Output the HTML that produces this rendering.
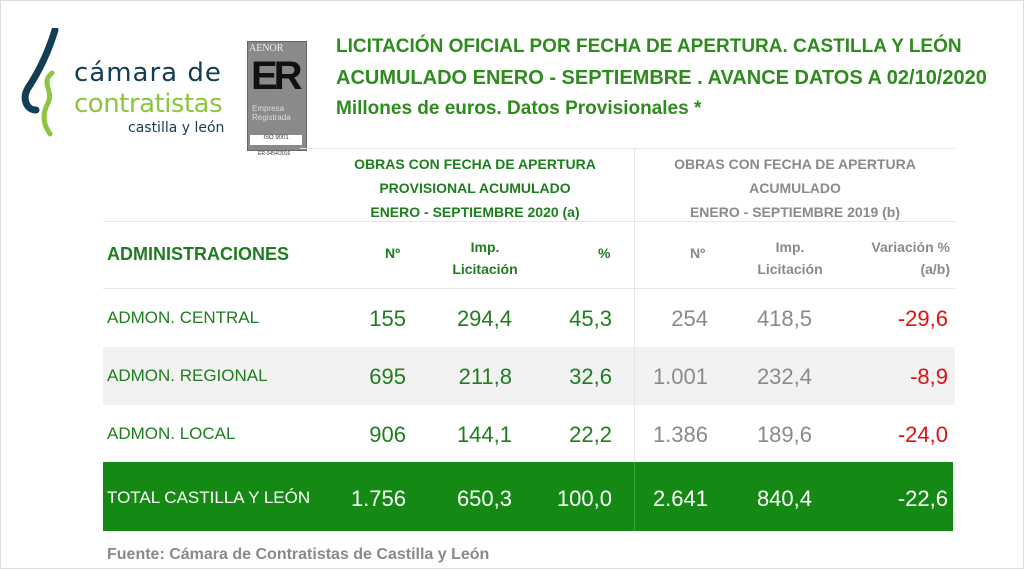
<!DOCTYPE html>
<html><head><meta charset="utf-8"><style>
body{margin:0;width:1024px;height:569px;background:#fff;position:relative;overflow:hidden;font-family:"Liberation Sans Narrow","Liberation Sans",sans-serif}
.a{position:absolute;white-space:nowrap}
.g{color:#1e7d1e}.gr{color:#8a8a8a}.r{color:#e01010}
.t{font-weight:bold;font-size:19px;color:#2e8b1e;left:336px}
.h{font-weight:bold;font-size:14px;text-align:center}
.n{font-size:22px}
.l{font-size:17px}
.rt{text-align:right}
</style></head><body>
<div class="a" style="left:0;top:0;width:1024px;height:569px;border:1px solid #ddd;box-sizing:border-box"></div>
<svg class="a" style="left:18px;top:28px" width="60" height="110">
<path d="M37 2 C30 25 20 45 10 60 C4 70 8 82 18 82" stroke="#123d52" stroke-width="7" fill="none" stroke-linecap="round"/>
<path d="M34 45 C22 55 36 62 30 75 C22 90 28 100 32 106" stroke="#8cc63f" stroke-width="5" fill="none" stroke-linecap="round"/>
</svg>
<div class="a" style="left:74px;top:58px;font-size:26px;color:#123d52;letter-spacing:1px;font-family:'DejaVu Sans',sans-serif">cámara de</div>
<div class="a" style="left:74px;top:89px;font-size:26px;color:#8cc63f;letter-spacing:-0.5px;font-family:'DejaVu Sans',sans-serif">contratistas</div>
<div class="a" style="left:128px;top:120px;font-size:14px;color:#123d52;font-family:'DejaVu Sans',sans-serif">castilla y león</div>
<div class="a" style="left:247px;top:41px;width:58px;height:108px;background:#8a8a8a;border:1px solid #666"></div>
<div class="a" style="left:249px;top:43px;font-size:10px;color:#eee;font-family:'Liberation Serif',serif">AENOR</div>
<div class="a" style="left:251px;top:54px;font-size:40px;font-weight:bold;color:#111;letter-spacing:-4px">ER</div>
<div class="a" style="left:252px;top:104px;font-size:8px;color:#ddd;line-height:9px">Empresa<br>Registrada</div>
<div class="a" style="left:250px;top:135px;width:52px;height:10px;background:#fff;font-size:6px;text-align:center;color:#333">ISO 9001</div>
<div class="a" style="left:258px;top:151px;font-size:5px;color:#333">ER-0454/2016</div>
<div class="a t" style="top:36px">LICITACIÓN OFICIAL POR FECHA DE APERTURA. CASTILLA Y LEÓN</div>
<div class="a t" style="top:67px;font-size:20px">ACUMULADO ENERO - SEPTIEMBRE . AVANCE DATOS A 02/10/2020</div>
<div class="a t" style="top:98px">Millones de euros. Datos Provisionales *</div>
<div class="a" style="left:300px;top:148px;width:655px;height:1px;background:#e6e6e6"></div>
<div class="a" style="left:103px;top:221px;width:852px;height:1px;background:#e6e6e6"></div>
<div class="a" style="left:103px;top:288px;width:852px;height:1px;background:#e6e6e6"></div>
<div class="a" style="left:103px;top:347px;width:852px;height:58px;background:#f2f2f2"></div>
<div class="a" style="left:634px;top:148px;width:1px;height:314px;background:#e6e6e6"></div>
<div class="a h g" style="left:330px;top:152px;width:290px;line-height:24px">OBRAS CON FECHA DE APERTURA<br>PROVISIONAL ACUMULADO<br>ENERO - SEPTIEMBRE 2020 (a)</div>
<div class="a h gr" style="left:650px;top:152px;width:290px;line-height:24px">OBRAS CON FECHA DE APERTURA<br>ACUMULADO<br>ENERO - SEPTIEMBRE 2019 (b)</div>
<div class="a g" style="left:107px;top:244px;font-size:18px;font-weight:bold">ADMINISTRACIONES</div>
<div class="a g" style="left:385px;top:245px;font-size:14px;font-weight:bold">Nº</div>
<div class="a g h" style="left:440px;top:236px;width:90px;line-height:22px">Imp.<br>Licitación</div>
<div class="a g" style="left:598px;top:245px;font-size:14px;font-weight:bold">%</div>
<div class="a gr" style="left:690px;top:245px;font-size:14px;font-weight:bold">Nº</div>
<div class="a gr h" style="left:745px;top:236px;width:90px;line-height:22px">Imp.<br>Licitación</div>
<div class="a gr h rt" style="left:840px;top:236px;width:110px;line-height:22px;text-align:right">Variación %<br>(a/b)</div>

<div class="a g l" style="left:107px;top:308px">ADMON. CENTRAL</div>
<div class="a g l" style="left:107px;top:366px">ADMON. REGIONAL</div>
<div class="a g l" style="left:107px;top:424px">ADMON. LOCAL</div>

<div class="a g n rt" style="left:320px;width:86px;top:306px">155</div>
<div class="a g n rt" style="left:420px;width:92px;top:306px">294,4</div>
<div class="a g n rt" style="left:520px;width:92px;top:306px">45,3</div>
<div class="a gr n rt" style="left:620px;width:88px;top:306px">254</div>
<div class="a gr n rt" style="left:720px;width:92px;top:306px">418,5</div>
<div class="a r n rt" style="left:850px;width:98px;top:306px">-29,6</div>

<div class="a g n rt" style="left:320px;width:86px;top:364px">695</div>
<div class="a g n rt" style="left:420px;width:92px;top:364px">211,8</div>
<div class="a g n rt" style="left:520px;width:92px;top:364px">32,6</div>
<div class="a gr n rt" style="left:620px;width:88px;top:364px">1.001</div>
<div class="a gr n rt" style="left:720px;width:92px;top:364px">232,4</div>
<div class="a r n rt" style="left:850px;width:98px;top:364px">-8,9</div>

<div class="a g n rt" style="left:320px;width:86px;top:422px">906</div>
<div class="a g n rt" style="left:420px;width:92px;top:422px">144,1</div>
<div class="a g n rt" style="left:520px;width:92px;top:422px">22,2</div>
<div class="a gr n rt" style="left:620px;width:88px;top:422px">1.386</div>
<div class="a gr n rt" style="left:720px;width:92px;top:422px">189,6</div>
<div class="a r n rt" style="left:850px;width:98px;top:422px">-24,0</div>

<div class="a" style="left:103px;top:462px;width:850px;height:69px;background:#148a14"></div>
<div class="a" style="left:634px;top:462px;width:1px;height:69px;background:#3aa03a"></div>
<div class="a l" style="left:107px;top:488px;color:#fff">TOTAL CASTILLA Y LEÓN</div>
<div class="a n rt" style="left:320px;width:86px;top:486px;color:#fff">1.756</div>
<div class="a n rt" style="left:420px;width:92px;top:486px;color:#fff">650,3</div>
<div class="a n rt" style="left:520px;width:92px;top:486px;color:#fff">100,0</div>
<div class="a n rt" style="left:620px;width:88px;top:486px;color:#fff">2.641</div>
<div class="a n rt" style="left:720px;width:92px;top:486px;color:#fff">840,4</div>
<div class="a n rt" style="left:850px;width:98px;top:486px;color:#fff">-22,6</div>
<div class="a" style="left:107px;top:546px;font-size:16px;font-weight:bold;color:#8a8a8a">Fuente: Cámara de Contratistas de Castilla y León</div>
</body></html>
